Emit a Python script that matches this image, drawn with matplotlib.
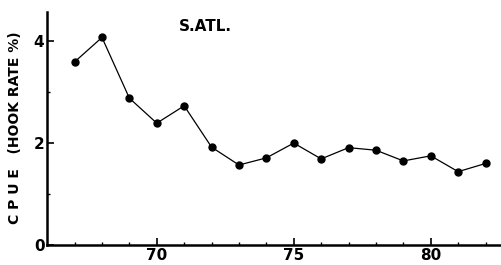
"""
CPUE (hook rate) del Atlántico Sur
"""
import matplotlib
matplotlib.use("Agg")
import matplotlib.pyplot as plt

# Datos
years = [67, 68, 69, 70, 71, 72, 73, 74, 75, 76, 77, 78, 79, 80, 81, 82]
cpue = [3.59, 4.07, 2.88, 2.39, 2.73, 1.92, 1.57, 1.71, 2.00, 1.69, 1.91, 1.86, 1.65, 1.75, 1.44, 1.60]
xticks = [70, 75, 80]
yticks = [0, 2, 4]

plt.rcParams['font.family'] = ['DejaVu Sans']

fig = plt.figure(figsize=(5.02, 2.65), dpi=100)
ax = fig.add_axes([0.094, 0.075, 0.906, 0.88])

ax.plot(years, cpue, color='black', linewidth=0.9, marker='o', markersize=5)

ax.set_xlim(66.0, 82.6)
ax.set_ylim(0, 4.57)

ax.set_xticks(xticks)
ax.set_xticks(range(67, 83), minor=True)
ax.set_yticks(yticks)
ax.set_yticks([1, 3], minor=True)
ax.tick_params(direction='in', length=5, width=1.2, labelsize=11, pad=2)
ax.tick_params(which='minor', direction='in', length=2.5, width=1)
for lbl in ax.get_xticklabels() + ax.get_yticklabels():
    lbl.set_fontweight('bold')

for side in ['top', 'right']:
    ax.spines[side].set_visible(False)
ax.spines['left'].set_linewidth(1.8)
ax.spines['bottom'].set_linewidth(1.8)

ax.text(71.77, 4.29, "S.ATL.", fontsize=11, fontweight='bold', ha='center', va='center')
fig.text(0.03, 0.52, "C P U E   (HOOK RATE %)", rotation=90, fontsize=10,
         fontweight='bold', ha='center', va='center')

plt.savefig("out.png", dpi=100)
plt.close()
